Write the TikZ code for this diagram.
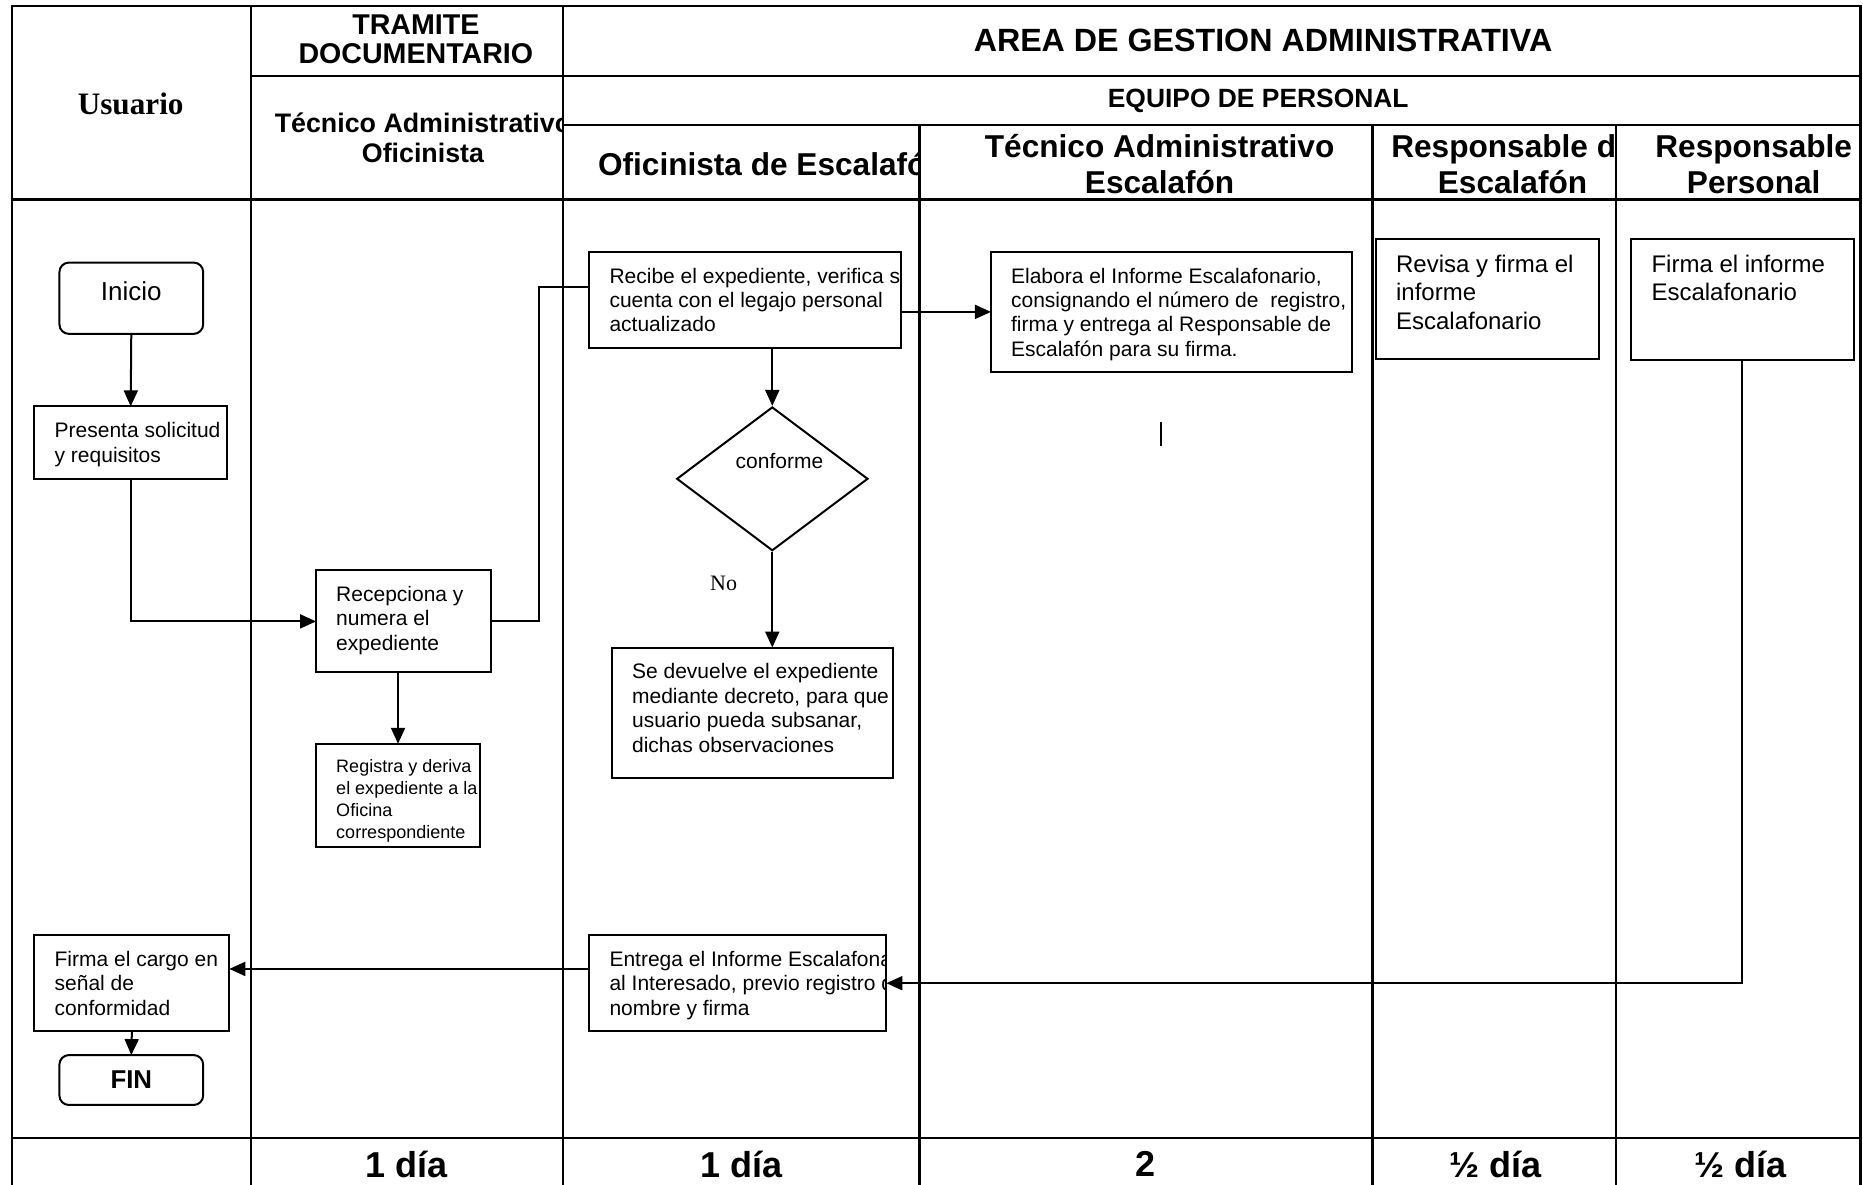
\documentclass[tikz,border=0pt]{standalone}
\usepackage{fontspec}
\setmainfont{Liberation Sans}
\newfontfamily\serifface{Liberation Serif}
\usetikzlibrary{shapes.geometric, arrows.meta, calc}
\newlength\pxu
\setlength\pxu{0.594pt}
\tikzset{
  gridline/.style={line width=1.2pt},
  box/.style={draw, line width=1pt, inner sep=0pt, outer sep=0pt, rectangle},
  rbox/.style={box, rounded corners=8\pxu},
  sz/.style 2 args={minimum width=#1\pxu, minimum height=#2\pxu},
  inner/.style={draw=none, fill=none, rounded corners=0pt, minimum width=0pt, minimum height=0pt, inner sep=0pt, outer sep=0pt},
  tl/.style 2 args={path picture={\node[inner, anchor=north west, align=left, font=#1] at ([xshift=17\pxu, yshift=-13.5\pxu]path picture bounding box.north west) {#2};}},
  arr/.style={line width=1pt, -{Triangle[length=8pt, width=7pt]}},
  conn/.style={line width=1pt},
  hdr/.style={font=\bfseries\fontsize{15.8}{17.8}\selectfont, align=center, inner sep=0pt},
  foot/.style={font=\bfseries\fontsize{18}{20}\selectfont, inner sep=0pt},
}
\newcommand{\bodyfont}{\fontsize{10.5}{12.2}\selectfont}
\begin{document}
\begin{tikzpicture}[x=0.594pt, y=-0.594pt]
\useasboundingbox (0,0) rectangle (1568,997);
% ---------- table grid ----------
\draw[gridline] (10,997) -- (10,5) -- (1566,5) -- (1566,997);
\draw[gridline] (211,5) -- (211,997);
\draw[gridline] (474,5) -- (474,997);
\draw[gridline] (774,105) -- (774,997);
\draw[gridline] (1155,105) -- (1155,997);
\draw[gridline] (1360,105) -- (1360,997);
\draw[gridline] (211,64) -- (1566,64);
\draw[gridline] (474,105) -- (1566,105);
\draw[gridline] (10,168) -- (1566,168);
\draw[gridline] (10,958) -- (1566,958);
% ---------- headers ----------
\node[font=\serifface\bfseries\fontsize{15.6}{18}\selectfont, inner sep=0pt] (hU) at (110,87) {Usuario};
\node[font=\bfseries\fontsize{14.3}{14.6}\selectfont, align=center, inner sep=0pt] (hT) at (350,33) {TRAMITE\\DOCUMENTARIO};
\begin{scope}
\clip (211,64) rectangle (474,168);
\node[font=\bfseries\fontsize{13.4}{14.9}\selectfont, align=center, inner sep=0pt] (hTA) at (356,116) {Técnico Administrativo\\Oficinista};
\end{scope}
\node[font=\bfseries\fontsize{16.1}{18}\selectfont, inner sep=0pt] (hA) at (1063,34) {AREA DE GESTION ADMINISTRATIVA};
\node[font=\bfseries\fontsize{13.2}{15}\selectfont, inner sep=0pt] (hE) at (1059,85) {EQUIPO DE PERSONAL};
\begin{scope}
\clip (474,105) rectangle (774,168);
\node[font=\bfseries\fontsize{15.8}{17.8}\selectfont, anchor=west, inner sep=0pt] (hO) at (503,138) {Oficinista de Escalafón};
\end{scope}
\node[hdr] (hTE) at (976,138) {Técnico Administrativo\\Escalafón};
\begin{scope}
\clip (1155,105) rectangle (1360,168);
\node[hdr] (hRE) at (1273,138) {Responsable de\\Escalafón};
\end{scope}
\node[hdr] (hRP) at (1476,138) {Responsable\\Personal};
% ---------- footer ----------
\node[foot] (f1) at (342,980) {1 día};
\node[foot] (f2) at (624,980) {1 día};
\node[foot] (f3) at (964,980) {2};
\node[foot] (f4) at (1259,980) {½ día};
\node[foot] (f5) at (1465,980) {½ día};
% ---------- flow nodes ----------
\node[rbox, sz={121}{60}, font=\fontsize{13}{15}\selectfont, text depth=7pt] (ini) at (110.5,251) {Inicio};
\node[box, sz={162}{61}, tl={\bodyfont}{Presenta solicitud\\y requisitos}] (pres) at (110,372.5) {};
\node[box, sz={147}{86}, tl={\bodyfont}{Recepciona y\\numera el\\expediente}] (recep) at (339.5,523) {};
\node[box, sz={138}{87}, tl={\fontsize{9}{11}\selectfont}{Registra y deriva\\el expediente a la\\Oficina\\correspondiente}] (reg) at (335,669.5) {};
\node[box, sz={262}{81}, tl={\bodyfont}{Recibe el expediente, verifica si\\cuenta con el legajo personal\\actualizado}] (recib) at (627,252.5) {};
\node[box, sz={304}{101}, tl={\bodyfont}{Elabora el Informe Escalafonario,\\consignando el número de\ \ registro,\\firma y entrega al Responsable de\\Escalafón para su firma.}] (elab) at (986,262.5) {};
\node[draw, line width=1pt, diamond, aspect=1.33, inner sep=0pt, sz={161}{121},
  path picture={\node[inner, font=\bodyfont] at ([xshift=6\pxu, yshift=15\pxu]path picture bounding box.center) {conforme};}] (diam) at (650,403) {};
\node[font=\serifface\fontsize{11}{13}\selectfont, inner sep=0pt] (no) at (609,491) {No};
\node[box, sz={237}{110}, tl={\bodyfont}{Se devuelve el expediente\\mediante decreto, para que el\\usuario pueda subsanar,\\dichas observaciones}] (sedev) at (633.5,600) {};
\node[box, sz={188}{101}, tl={\fontsize{12}{14.3}\selectfont}{Revisa y firma el\\informe\\Escalafonario}] (rev) at (1252,251.5) {};
\node[box, sz={187}{102}, tl={\fontsize{12}{14.3}\selectfont}{Firma el informe\\Escalafonario}] (finf) at (1466.5,252) {};
\node[box, sz={250}{81}, tl={\bodyfont}{Entrega el Informe Escalafonario\\al Interesado, previo registro de\\nombre y firma}] (entr) at (621,827.5) {};
\node[box, sz={164}{81}, tl={\bodyfont}{Firma el cargo en\\señal de\\conformidad}] (fcar) at (111,827.5) {};
\node[rbox, sz={121}{42}, font=\bfseries\fontsize{12.9}{15}\selectfont] (fin) at (110.5,909) {FIN};
\coordinate (tickA) at (977,355);
\coordinate (tickB) at (977,375);
% ---------- connectors ----------
\draw[arr] (ini.south) -- (pres.north);
\draw[arr] (pres.south) |- (recep.west);
\draw[arr] (reg.north |- recep.south) -- (reg.north);
\draw[conn] (recep.east) -| ($(recib.west)+(-42,-11)$) -- ($(recib.west)+(0,-11)$);
\draw[arr] (recib.east |- elab.west) -- (elab.west);
\draw[arr] (diam.north |- recib.south) -- (diam.north);
\draw[arr] (diam.south) -- (diam.south |- sedev.north);
\draw[arr] (finf.south) |- (entr.east);
\draw[arr] ($(entr.west)+(0,-12)$) -- (fcar.east |- {$(entr.west)+(0,-12)$});
\draw[arr] (fcar.south) -- (fin.north);
\draw[conn] (tickA) -- (tickB);
\end{tikzpicture}
\end{document}
